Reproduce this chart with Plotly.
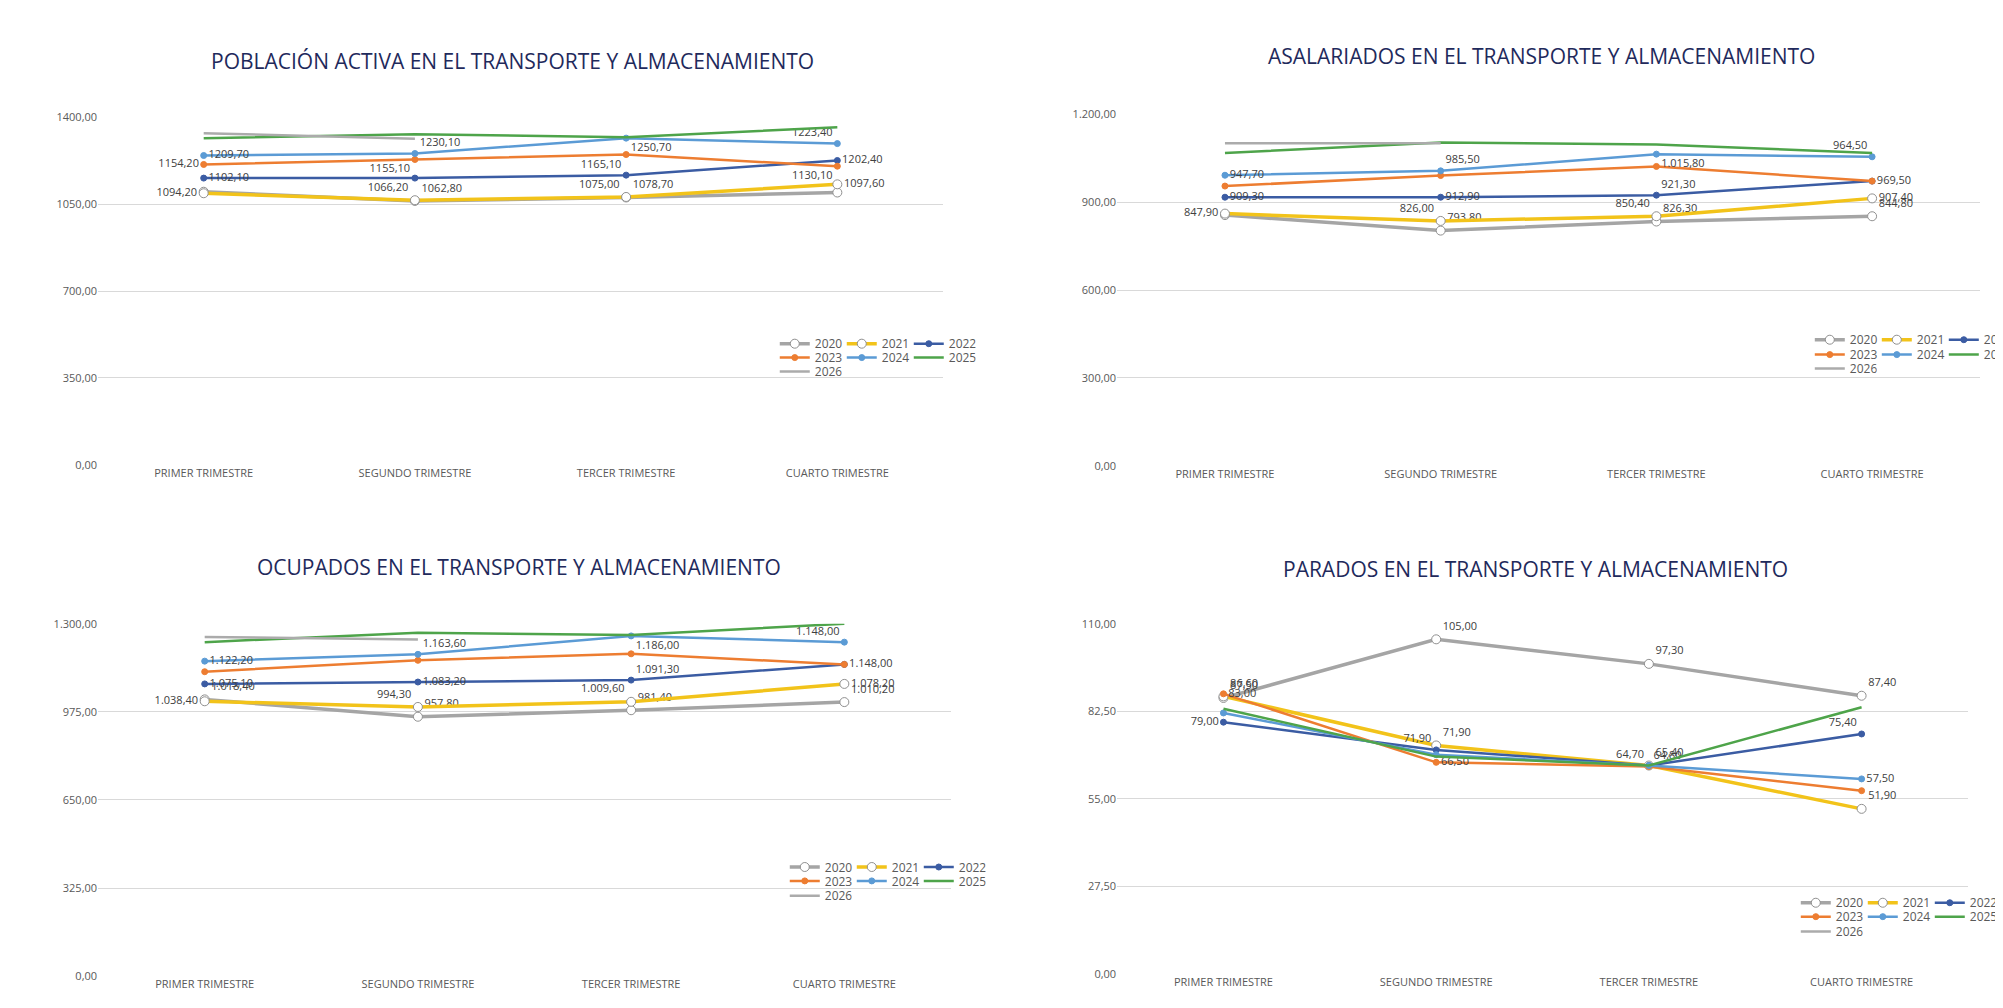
import plotly.graph_objects as go

QUARTERS = ["PRIMER TRIMESTRE", "SEGUNDO TRIMESTRE", "TERCER TRIMESTRE", "CUARTO TRIMESTRE"]
YEARS = ["2020", "2021", "2022", "2023", "2024", "2025", "2026"]
COLORS = ["#A5A5A5", "#F2C31A", "#3B5CA3", "#ED7D31", "#5B9BD5", "#4EA44A", "#ABABAB"]

TITLES = [
    "POBLACIÓN ACTIVA EN EL TRANSPORTE Y ALMACENAMIENTO",
    "ASALARIADOS EN EL TRANSPORTE Y ALMACENAMIENTO",
    "OCUPADOS EN EL TRANSPORTE Y ALMACENAMIENTO",
    "PARADOS EN EL TRANSPORTE Y ALMACENAMIENTO",
]

# values per year (2020..2026)
activa = [
    [1100, 1063, 1077, 1097],
    [1094, 1066, 1079, 1130],
    [1155, 1155, 1167, 1226],
    [1210, 1230, 1250, 1203],
    [1246, 1254, 1316, 1294],
    [1316, 1332, 1320, 1360],
    [1336, 1314, None, None],
]
activa_labels = [
    ["", "1062,80", "1078,70", ""],
    ["1094,20", "1066,20", "1075,00", "1097,60"],
    ["1102,10", "", "", "1202,40"],
    ["1154,20", "1155,10", "1165,10", "1130,10"],
    ["1209,70", "1230,10", "1250,70", "1223,40"],
    ["", "", "", ""],
    ["", "", "", ""],
]
activa_ticks = [0, 350, 700, 1050, 1400]
activa_ticktext = ["0,00", "350,00", "700,00", "1050,00", "1400,00"]

asalariados = [
    [856, 803, 834, 852],
    [861, 836, 852, 913],
    [917, 917, 924, 972],
    [955, 991, 1022, 972],
    [992, 1007, 1064, 1055],
    [1068, 1104, 1097, 1068],
    [1101, 1101, None, None],
]
asalariados_labels = [
    ["", "793,80", "826,30", "844,80"],
    ["847,90", "826,00", "850,40", "907,40"],
    ["909,30", "912,90", "921,30", "969,50"],
    ["", "", "", ""],
    ["947,70", "985,50", "1.015,80", "964,50"],
    ["", "", "", ""],
    ["", "", "", ""],
]
asalariados_ticks = [0, 300, 600, 900, 1200]
asalariados_ticktext = ["0,00", "300,00", "600,00", "900,00", "1.200,00"]

ocupados = [
    [1021, 957, 981, 1011],
    [1014, 993, 1012, 1078],
    [1078, 1085, 1092, 1150],
    [1123, 1165, 1189, 1150],
    [1162, 1187, 1255, 1232],
    [1232, 1267, 1258, 1300],
    [1251, 1242, None, None],
]
ocupados_labels = [
    ["1.018,40", "957,80", "981,40", "1.010,20"],
    ["1.038,40", "994,30", "1.009,60", "1.078,20"],
    ["1.075,10", "1.083,20", "1.091,30", "1.148,00"],
    ["", "", "", ""],
    ["1.122,20", "1.163,60", "1.186,00", "1.148,00"],
    ["", "", "", ""],
    ["", "", "", ""],
]
ocupados_ticks = [0, 325, 650, 975, 1300]
ocupados_ticktext = ["0,00", "325,00", "650,00", "975,00", "1.300,00"]

parados = [
    [86.7, 105.1, 97.4, 87.4],
    [87.2, 71.8, 65.5, 51.9],
    [79.1, 70.4, 65.5, 75.4],
    [88.0, 66.5, 65.2, 57.6],
    [82.0, 68.9, 65.5, 61.3],
    [83.3, 68.3, 65.5, 83.8],
    [None, None, None, None],
]
parados_labels = [
    ["87,50", "105,00", "97,30", "87,40"],
    ["86,60", "71,90", "65,40", "51,90"],
    ["79,00", "71,90", "64,70", "75,40"],
    ["83,00", "66,50", "64,80", ""],
    ["", "", "", "57,50"],
    ["", "", "", ""],
    ["", "", "", ""],
]
parados_ticks = [0, 27.5, 55, 82.5, 110]
parados_ticktext = ["0,00", "27,50", "55,00", "82,50", "110,00"]

# label positions per year
POS = {
    0: ["top right", "top right", "top right", "top right"],
    1: ["middle left", "top left", "top left", "middle right"],
    2: ["middle right", "middle right", "top right", "middle right"],
    3: ["middle left", "bottom left", "bottom left", "bottom left"],
    4: ["middle right", "top right", "bottom right", "top left"],
    5: ["top right"] * 4,
    6: ["top right"] * 4,
}
POS_PARADOS = {
    0: ["top right", "top right", "top right", "top right"],
    1: ["top right", "top right", "top right", "top right"],
    2: ["middle left", "top left", "top left", "top left"],
    3: ["middle right", "middle right", "top right", "middle right"],
    4: ["middle right", "middle right", "middle right", "middle right"],
    5: ["top right"] * 4,
    6: ["top right"] * 4,
}

CHARTS = [
    (activa, activa_labels, activa_ticks, activa_ticktext, POS),
    (asalariados, asalariados_labels, asalariados_ticks, asalariados_ticktext, POS),
    (ocupados, ocupados_labels, ocupados_ticks, ocupados_ticktext, POS),
    (parados, parados_labels, parados_ticks, parados_ticktext, POS_PARADOS),
]

X_DOMAINS = [[0.045, 0.467], [0.554, 0.985], [0.045, 0.471], [0.554, 0.979]]
Y_DOMAINS = [[0.548, 0.898], [0.547, 0.901], [0.033, 0.388], [0.035, 0.388]]
TITLE_POS = [(0.252, 0.955), (0.766, 0.96), (0.255, 0.445), (0.763, 0.443)]
# legend: x start, and y of the three rows
LEGEND_X = [0.383, 0.900, 0.388, 0.893]
LEGEND_ROWS_Y = [
    [0.670, 0.656, 0.642],
    [0.674, 0.659, 0.645],
    [0.143, 0.129, 0.114],
    [0.107, 0.093, 0.078],
]
ROW_OF_YEAR = [0, 0, 0, 1, 1, 1, 2]

fig = go.Figure()
layout = dict(
    width=2003, height=1008, paper_bgcolor="white", plot_bgcolor="white",
    margin=dict(l=0, r=0, t=0, b=0),
    font=dict(family="Open Sans", color="#595959"),
    annotations=[], showlegend=True,
)

leg_count = 0
for c, (data, labels, ticks, ticktext, pos) in enumerate(CHARTS):
    n = "" if c == 0 else str(c + 1)
    legs = []
    for r in range(3):
        leg_count += 1
        name = "legend" if leg_count == 1 else "legend" + str(leg_count)
        legs.append(name)
        layout[name] = dict(
            x=LEGEND_X[c], y=LEGEND_ROWS_Y[c][r], xanchor="left", yanchor="middle",
            orientation="h", entrywidth=22, itemwidth=30, bgcolor="rgba(0,0,0,0)",
            font=dict(size=12, color="#595959"), tracegroupgap=0,
        )
    for i, year in enumerate(YEARS):
        hollow = i <= 1
        has_marker = i <= 4
        fig.add_trace(go.Scatter(
            x=QUARTERS, y=data[i], name=year,
            mode="lines+markers+text" if has_marker else "lines",
            text=labels[i], textposition=pos[i],
            textfont=dict(size=11, color="#404040"),
            line=dict(color=COLORS[i], width=3.5 if hollow else 2.5),
            marker=dict(
                size=9 if hollow else 6, symbol="circle",
                color="white" if hollow else COLORS[i],
                line=dict(color="#909090" if hollow else COLORS[i], width=1),
            ),
            xaxis="x" + n, yaxis="y" + n, legend=legs[ROW_OF_YEAR[i]], cliponaxis=False,
        ))
    layout["xaxis" + n] = dict(
        domain=X_DOMAINS[c], anchor="y" + n, showgrid=False, showline=False,
        tickfont=dict(size=11, color="#595959"), range=[-0.5, 3.5], ticks="",
    )
    layout["yaxis" + n] = dict(
        domain=Y_DOMAINS[c], anchor="x" + n, range=[ticks[0], ticks[-1]],
        tickvals=ticks, ticktext=ticktext, gridcolor="#D9D9D9", gridwidth=1,
        zeroline=False, tickfont=dict(size=11, color="#595959"),
    )
    tx, ty = TITLE_POS[c]
    layout["annotations"].append(dict(
        text=TITLES[c], x=tx, y=ty, xref="paper", yref="paper", showarrow=False,
        xanchor="center", yanchor="middle",
        font=dict(size=21, color="#1F2A5C", family="Open Sans"),
    ))

fig.update_layout(**layout)
fig.write_html("out.html")
